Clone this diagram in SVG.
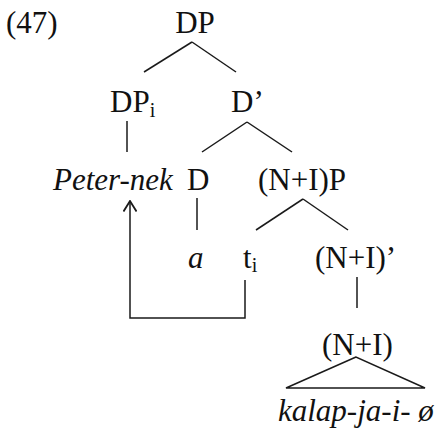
<svg xmlns="http://www.w3.org/2000/svg" width="439" height="433" viewBox="0 0 439 433">
<style>
text{font-family:'Liberation Serif','DejaVu Serif',serif;font-size:31px;fill:#111}
.it{font-style:italic}
.sub{font-size:20px}
.mid{text-anchor:middle}
line,polyline,polygon{stroke:#1a1a1a;stroke-width:1.5;fill:none}
</style>
<defs>
<marker id="arr" viewBox="0 0 12 14" refX="11" refY="7" markerWidth="12" markerHeight="14" markerUnits="userSpaceOnUse" orient="auto">
<polyline points="0.5,0.5 11,7 0.5,13.5" style="stroke:#1a1a1a;stroke-width:1.8;fill:none"/>
</marker>
</defs>
<rect width="439" height="433" fill="#fff"/>
<text x="6" y="33">(47)</text>
<g id="dp"><text x="195" y="33" class="mid">DP</text></g>
<g id="dpi"><text x="110" y="112">DP<tspan class="sub" dy="5">i</tspan></text></g>
<g id="dbar"><text x="231" y="112">D’</text></g>
<g id="peternek"><text x="53" y="190" class="it">Peter-nek</text></g>
<g id="d"><text x="187" y="190">D</text></g>
<g id="nip"><text x="258" y="190">(N+I)P</text></g>
<g id="a"><text x="188" y="268" class="it">a</text></g>
<g id="ti"><text x="243" y="268">t<tspan class="sub" dy="4">i</tspan></text></g>
<g id="nibar"><text x="315" y="268">(N+I)’</text></g>
<g id="ni"><text x="322" y="355">(N+I)</text></g>
<g id="kalap"><text x="278" y="421" class="it">kalap-ja-i- ø</text></g>
<g id="connectors">
<line x1="192" y1="42" x2="144" y2="72"/>
<line x1="192" y1="42" x2="236" y2="72"/>
<line x1="127" y1="121" x2="127" y2="152"/>
<line x1="247" y1="122" x2="202" y2="152"/>
<line x1="247" y1="122" x2="292" y2="152"/>
<line x1="197" y1="198" x2="197" y2="230"/>
<line x1="303" y1="199" x2="256" y2="230"/>
<line x1="303" y1="199" x2="348" y2="230"/>
<line x1="357" y1="277" x2="357" y2="308"/>
<polygon points="356,357 286,388 425,388"/>
<polyline points="245,280 245,318 130,318 130,201" marker-end="url(#arr)"/>
</g>
</svg>
